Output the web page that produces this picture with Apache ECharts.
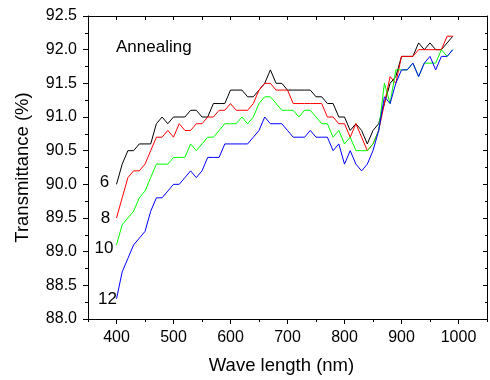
<!DOCTYPE html>
<html>
<head>
<meta charset="utf-8">
<script src="https://cdn.jsdelivr.net/npm/echarts@6/dist/echarts.min.js"></script>
<style>html,body{margin:0;padding:0;background:#fff;}#c{width:490px;height:380px;}</style>
</head>
<body>
<div id="c"></div>
<script>
const wavelengths = [400,410,420,430,440,450,460,470,480,490,500,510,520,530,540,550,560,570,580,590,600,610,620,630,640,650,660,670,680,690,700,710,720,730,740,750,760,770,780,790,800,810,820,830,840,850,860,870,880,890,900,910,920,930,940,950,960,970,980,990];
const seriesNames = ['6','8','10','12'];
const t6 = [90.0,90.3,90.5,90.5,90.6,90.6,90.6,90.9,91.0,90.9,91.0,91.0,91.0,91.1,91.1,91.0,91.0,91.2,91.2,91.2,91.4,91.4,91.4,91.3,91.3,91.4,91.5,91.7,91.5,91.5,91.4,91.4,91.4,91.4,91.4,91.3,91.3,91.2,91.2,91.0,91.0,90.8,90.9,90.8,90.6,90.8,90.9,91.2,91.5,91.6,91.9,91.9,91.9,92.1,92.0,92.1,92.0,92.0,92.1,92.2];
const t8 = [89.5,89.8,90.1,90.2,90.2,90.3,90.5,90.7,90.7,90.8,90.7,90.9,90.8,90.8,90.9,90.9,91.0,91.0,91.1,91.1,91.2,91.1,91.1,91.1,91.2,91.4,91.5,91.5,91.4,91.4,91.4,91.2,91.2,91.2,91.2,91.2,91.2,91.0,91.0,90.9,90.9,90.7,90.9,90.7,90.5,90.6,90.8,91.2,91.6,91.5,91.9,91.9,91.9,92.0,92.0,92.0,92.0,92.0,92.2,92.2];
const t10 = [89.1,89.4,89.5,89.6,89.8,89.9,90.1,90.3,90.3,90.3,90.4,90.4,90.4,90.6,90.5,90.6,90.7,90.7,90.8,90.9,90.9,90.9,91.0,90.9,91.0,91.2,91.3,91.3,91.2,91.1,91.1,91.1,91.0,91.1,91.1,91.0,90.9,90.9,90.7,90.8,90.6,90.7,90.5,90.5,90.5,90.6,90.8,91.5,91.2,91.7,91.7,91.7,91.8,91.6,91.8,91.8,91.8,92.0,91.9,92.0];
const t12 = [88.3,88.7,88.9,89.1,89.2,89.3,89.6,89.8,89.8,89.9,90.0,90.0,90.1,90.2,90.1,90.2,90.4,90.4,90.4,90.6,90.6,90.6,90.6,90.6,90.7,90.8,91.0,90.9,90.9,90.9,90.8,90.7,90.7,90.7,90.8,90.7,90.7,90.7,90.5,90.6,90.3,90.5,90.3,90.2,90.3,90.5,90.8,91.3,91.2,91.5,91.7,91.7,91.8,91.6,91.8,91.9,91.7,91.9,91.9,92.0];
const xTickLabels = [400,500,600,700,800,900,1000];
const colors = ['#000000','#ff0000','#00ff00','#0000ff'];

const FONT = 'Liberation Sans, Arial, sans-serif';
const allSeries = [t6,t8,t10,t12];
function pairs(vals){ return wavelengths.map((w,i)=>[w, vals[i]]); }

const chart = echarts.init(document.getElementById('c'), null, {renderer:'canvas'});
chart.setOption({
  animation:false,
  backgroundColor:'#fff',
  grid:{left:88, right:1, top:16, bottom:59, containLabel:false},
  xAxis:[
    {type:'value', position:'bottom', min:350, max:1050, interval:50,
     name:'Wave length (nm)', nameLocation:'middle', nameGap:37,
     nameTextStyle:{fontFamily:FONT, fontSize:18.5, color:'#000', padding:[0,12,0,0]},
     axisLine:{show:true, onZero:false, lineStyle:{color:'#000', width:1}},
     axisTick:{show:true, inside:false, length:3, lineStyle:{color:'#000'}},
     axisLabel:{fontFamily:FONT, fontSize:16, color:'#000', margin:11,
       formatter:(v)=> xTickLabels.indexOf(v)>=0 ? String(v) : ''},
     splitLine:{show:false}},
    {type:'value', position:'bottom', min:350, max:1050, interval:50,
     axisLine:{show:false, onZero:false},
     axisTick:{show:true, inside:false, length:5, customValues:xTickLabels, lineStyle:{color:'#000'}},
     axisLabel:{show:false}, splitLine:{show:false}},
    {type:'value', position:'top', min:350, max:1050, interval:50,
     axisLine:{show:true, onZero:false, lineStyle:{color:'#000', width:1}},
     axisTick:{show:true, inside:true, length:4, lineStyle:{color:'#000'}},
     axisLabel:{show:false}, splitLine:{show:false}}
  ],
  yAxis:[
    {type:'value', position:'left', min:88, max:92.5, interval:0.5,
     name:'Transmittance (%)', nameLocation:'middle', nameGap:56,
     nameTextStyle:{fontFamily:FONT, fontSize:18.5, color:'#000'},
     axisLine:{show:true, onZero:false, lineStyle:{color:'#000', width:1}},
     axisTick:{show:true, inside:false, length:5, lineStyle:{color:'#000'}},
     minorTick:{show:true, splitNumber:2, length:3, lineStyle:{color:'#000'}},
     axisLabel:{fontFamily:FONT, fontSize:16, color:'#000', margin:11,
       formatter:(v)=> v.toFixed(1)},
     splitLine:{show:false}, minorSplitLine:{show:false}},
    {type:'value', position:'right', min:88, max:92.5, interval:0.5,
     axisLine:{show:true, onZero:false, lineStyle:{color:'#000', width:1}},
     axisTick:{show:true, inside:true, length:4, lineStyle:{color:'#000'}},
     minorTick:{show:true, splitNumber:2, length:2, lineStyle:{color:'#000'}},
     axisLabel:{show:false}, splitLine:{show:false}, minorSplitLine:{show:false}}
  ],
  series: allSeries.map((vals,i)=>({
    name: seriesNames[i], type:'line', xAxisIndex:0, yAxisIndex:0,
    data: pairs(vals), showSymbol:false, symbol:'none',
    lineStyle:{color:colors[i], width:1}, itemStyle:{color:colors[i]},
    z: 2+i
  })),
  graphic:[
    {type:'text', left:116, top:39, style:{text:'Annealing', fontFamily:FONT, fontSize:17, fill:'#000'}},
    {type:'text', x:104.5, y:182, style:{text:seriesNames[0], fontFamily:FONT, fontSize:17, fill:'#000', textAlign:'center', textVerticalAlign:'middle'}},
    {type:'text', x:105.5, y:218, style:{text:seriesNames[1], fontFamily:FONT, fontSize:17, fill:'#000', textAlign:'center', textVerticalAlign:'middle'}},
    {type:'text', x:104, y:248, style:{text:seriesNames[2], fontFamily:FONT, fontSize:17, fill:'#000', textAlign:'center', textVerticalAlign:'middle'}},
    {type:'text', x:107.5, y:299, style:{text:seriesNames[3], fontFamily:FONT, fontSize:17, fill:'#000', textAlign:'center', textVerticalAlign:'middle'}}
  ]
});
</script>
</body>
</html>
